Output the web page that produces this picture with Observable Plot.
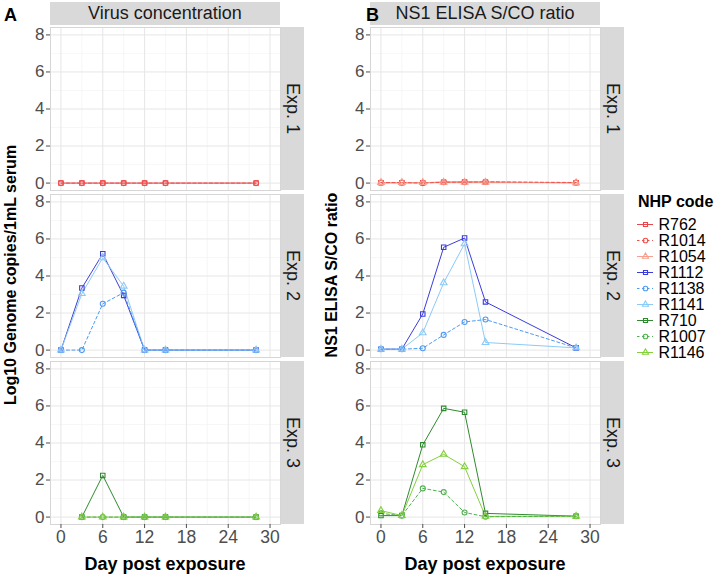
<!DOCTYPE html>
<html><head><meta charset="utf-8">
<script src="https://cdn.jsdelivr.net/npm/d3@7"></script>
<script src="https://cdn.jsdelivr.net/npm/@observablehq/plot@0.6"></script>
<style>
body{margin:0;background:#fff;}
#root{position:relative;width:717px;height:578px;font-family:"Liberation Sans",Arial,sans-serif;background:#fff;overflow:hidden;}
#root svg{position:absolute;}
.strip{position:absolute;background:#d9d9d9;color:#1a1a1a;font-size:18px;display:flex;align-items:center;justify-content:center;white-space:nowrap;}
.txt{position:absolute;white-space:nowrap;line-height:1;}
</style></head><body><div id="root"></div>
<script>
// ---- data ----
const days = [0, 3, 6, 9, 12, 15, 28];
const codes = ["R762","R1014","R1054","R1112","R1138","R1141","R710","R1007","R1146"];
const codeExp = ["Exp. 1","Exp. 1","Exp. 1","Exp. 2","Exp. 2","Exp. 2","Exp. 3","Exp. 3","Exp. 3"];
const codeColors = ["#e8474a","#f0514f","#f6a08f","#3c3cd9","#4f9bf2","#8ccaf7","#2f8a2f","#52b152","#84cf3f"];
const codeSymbols = ["square","circle","triangle","square","circle","triangle","square","circle","triangle"];
const dashedCodes = ["R1014","R1138","R1007"];
const experiments = ["Exp. 1","Exp. 2","Exp. 3"];
const panelTitles = ["Virus concentration","NS1 ELISA S/CO ratio"];
const yTitles = ["Log10 Genome copies/1mL serum","NS1 ELISA S/CO ratio"];
const xTitle = "Day post exposure";
const panelLetters = ["A","B"];
const legendTitle = "NHP code";
const xTicks = [0, 6, 12, 18, 24, 30];
const xMinor = [3, 9, 15, 21, 27];
const yTicks = [0, 2, 4, 6, 8];
const yMinor = [1, 3, 5, 7];

// virus concentration (log10 genome copies / mL), aligned to days; null = not sampled
const virusR762  = [0, 0, 0, 0, 0, 0, 0];
const virusR1014 = [0, 0, 0, 0, 0, 0, 0];
const virusR1054 = [null, null, null, null, null, null, null];
const virusR1112 = [0, 3.35, 5.2, 2.95, 0, 0, 0];
const virusR1138 = [0, 0, 2.5, 3.1, 0, 0, 0];
const virusR1141 = [0, 3.05, 4.98, 3.45, 0, 0, 0];
const virusR710  = [null, 0, 2.25, 0, 0, 0, 0];
const virusR1007 = [null, 0, 0, 0, 0, 0, 0];
const virusR1146 = [null, 0, 0, 0, 0, 0, 0];

// NS1 ELISA S/CO ratio
const ns1R762  = [0.02, 0.02, 0.02, 0.05, 0.06, 0.05, 0.02];
const ns1R1014 = [0.03, 0.03, 0.0, 0.05, 0.05, 0.07, 0.03];
const ns1R1054 = [0.03, 0.03, 0.03, 0.04, 0.04, 0.04, 0.02];
const ns1R1112 = [0.05, 0.05, 1.95, 5.55, 6.05, 2.6, 0.12];
const ns1R1138 = [0.05, 0.05, 0.1, 0.82, 1.52, 1.65, 0.12];
const ns1R1141 = [0.05, 0.05, 0.93, 3.63, 5.74, 0.41, 0.12];
const ns1R710  = [0.08, 0.08, 3.9, 5.87, 5.66, 0.2, 0.05];
const ns1R1007 = [0.2, 0.08, 1.55, 1.35, 0.25, 0.02, 0.05];
const ns1R1146 = [0.35, 0.08, 2.83, 3.39, 2.72, 0.04, 0.04];

const virusSeries = [virusR762, virusR1014, virusR1054, virusR1112, virusR1138, virusR1141, virusR710, virusR1007, virusR1146];
const ns1Series = [ns1R762, ns1R1014, ns1R1054, ns1R1112, ns1R1138, ns1R1141, ns1R710, ns1R1007, ns1R1146];

function toRows(series) {
  const rows = [];
  series.forEach((vals, i) => vals.forEach((v, j) => {
    if (v != null) rows.push({code: codes[i], exp: codeExp[i], day: days[j], value: v});
  }));
  return rows;
}

const FONT = '"Liberation Sans", Arial, sans-serif';
const root = document.getElementById("root");

function addDiv(cls, css, text) {
  const d = document.createElement("div");
  d.className = cls;
  Object.assign(d.style, css);
  if (text != null) d.textContent = text;
  root.appendChild(d);
  return d;
}

function column(series, left, k) {
  const rows = toRows(series);
  const solid = rows.filter(r => !dashedCodes.includes(r.code));
  const dashed = rows.filter(r => dashedCodes.includes(r.code));
  const W = 305, H = 578, mL = 50, mR = 25, mT = 26, mB = 53;
  const plot = Plot.plot({
    width: W, height: H, marginLeft: mL, marginRight: mR, marginTop: mT, marginBottom: mB,
    style: {fontFamily: FONT, fontSize: "17px", background: "transparent", overflow: "visible"},
    x: {domain: [-1.5, 31.5]},
    y: {domain: [-0.4, 8.4]},
    fy: {domain: experiments, paddingInner: 0.025, paddingOuter: 0, axis: null, label: null},
    color: {domain: codes, range: codeColors},
    symbol: {domain: codes, range: codeSymbols},
    marks: [
      Plot.gridY(yMinor, {stroke: "#f4f4f4", strokeOpacity: 1, strokeWidth: 0.7}),
      Plot.gridX(xMinor, {stroke: "#f4f4f4", strokeOpacity: 1, strokeWidth: 0.7}),
      Plot.gridY(yTicks, {stroke: "#e6e6e6", strokeOpacity: 1, strokeWidth: 1}),
      Plot.gridX(xTicks, {stroke: "#e6e6e6", strokeOpacity: 1, strokeWidth: 1}),
      Plot.frame({stroke: "#d6d6d6", strokeWidth: 1}),
      Plot.line(solid, {x: "day", y: "value", z: "code", stroke: "code", fy: "exp", strokeWidth: 1}),
      Plot.line(dashed, {x: "day", y: "value", z: "code", stroke: "code", fy: "exp", strokeWidth: 1, strokeDasharray: "3,2.5"}),
      Plot.dot(rows, {x: "day", y: "value", fy: "exp", stroke: "code", symbol: "code", r: 2.5, fill: "none", strokeWidth: 1.1}),
      Plot.axisY({ticks: yTicks, tickSize: 4, tickPadding: 2, color: "#4d4d4d", fontSize: 17, label: null}),
      Plot.axisX({ticks: xTicks, tickSize: 4, tickPadding: 2, color: "#4d4d4d", fontSize: 17.5, label: null})
    ]
  });
  plot.style.left = left + "px";
  plot.style.top = "0px";
  root.appendChild(plot);

  const x0 = left + mL, x1 = left + W - mR;
  // top strip
  addDiv("strip", {left: x0 + "px", top: "2px", width: (x1 - x0) + "px", height: "23px"}, panelTitles[k]);
  // facet strips from the fy scale
  const fy = plot.scale("fy");
  experiments.forEach(e => {
    const top = fy.apply(e), h = fy.bandwidth;
    addDiv("strip", {left: (x1 + 1) + "px", top: top + "px", width: "23px", height: h + "px", writingMode: "vertical-rl"}, e);
  });
  // x title
  addDiv("txt", {left: ((x0 + x1) / 2) + "px", top: "555px", transform: "translateX(-50%)", fontWeight: "bold", fontSize: "18px", color: "#000"}, xTitle);
  // y title
  addDiv("txt", {left: (k === 0 ? 11 : 332) + "px", top: "275px", transform: "translate(-50%,-50%) rotate(-90deg)", fontWeight: "bold", fontSize: "16px", color: "#000"}, yTitles[k]);
  // panel letter
  addDiv("txt", {left: (k === 0 ? 4 : 366) + "px", top: "6px", fontWeight: "bold", fontSize: "18px", color: "#000"}, panelLetters[k]);
  return plot;
}

column(virusSeries, 0, 0);
column(ns1Series, 320, 1);

// legend
addDiv("txt", {left: "638px", top: "194px", fontWeight: "bold", fontSize: "16px", color: "#000"}, legendTitle);
const solidCodes = codes.filter(c => !dashedCodes.includes(c));
const legend = Plot.plot({
  width: 80, height: 145, marginLeft: 0, marginRight: 64, marginTop: 0, marginBottom: 0,
  style: {fontFamily: FONT, background: "transparent", overflow: "visible"},
  y: {type: "point", domain: codes, padding: 0.5, axis: null},
  color: {domain: codes, range: codeColors},
  symbol: {domain: codes, range: codeSymbols},
  marks: [
    Plot.ruleY(solidCodes, {y: d => d, stroke: d => d, strokeWidth: 1}),
    Plot.ruleY(dashedCodes, {y: d => d, stroke: d => d, strokeWidth: 1, strokeDasharray: "2.5,2.5"}),
    Plot.dot(codes, {y: d => d, stroke: d => d, symbol: d => d, r: 2.3, fill: "none", strokeWidth: 1.1}),
    Plot.text(codes, {y: d => d, text: d => d, frameAnchor: "right", dx: 5, textAnchor: "start", fontSize: 16, fill: "#000"})
  ]
});
legend.style.left = "637px";
legend.style.top = "215px";
root.appendChild(legend);
</script></body></html>
